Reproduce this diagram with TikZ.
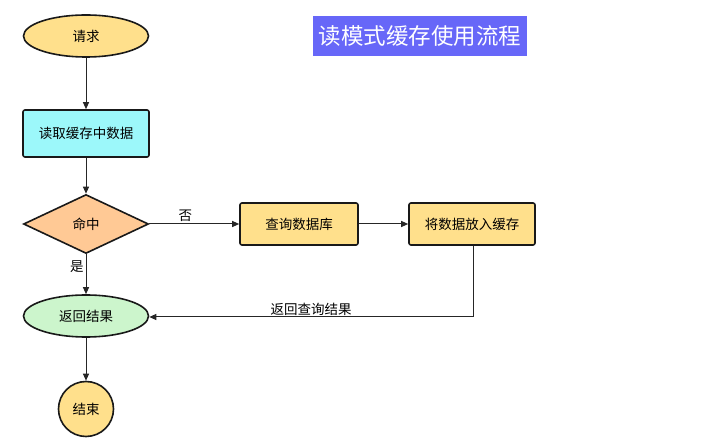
\documentclass[tikz,border=0pt]{standalone}
\usepackage{fontspec}
\setmainfont{Noto Sans CJK SC}
\usetikzlibrary{shapes.geometric,arrows.meta}
\definecolor{cyel}{HTML}{FFE08C}
\definecolor{ccyan}{HTML}{9CF8FA}
\definecolor{corange}{HTML}{FFC995}
\definecolor{cgreen}{HTML}{CCF5CC}
\definecolor{ctitle}{HTML}{6767F8}
\tikzset{
  base/.style={draw=black!90, line width=1.6pt, font=\fontsize{13.5}{15}\selectfont, inner sep=0pt},
  term/.style={base, ellipse, minimum width=125pt, minimum height=42pt},
  proc/.style={base, rectangle, rounded corners=2pt, minimum height=42pt},
  dec/.style={base, diamond, aspect=2.1, minimum width=125pt, minimum height=59pt},
  conn/.style={draw=black!85, line width=1pt, -{Triangle[length=7pt,width=6pt]}},
  lbl/.style={font=\fontsize{13.5}{15}\selectfont, inner sep=1pt}
}
\begin{document}
\begin{tikzpicture}[x=1pt,y=-1pt]
\useasboundingbox (0,0) rectangle (702,438);
\node[term, fill=cyel] (req) at (86,36) {请求};
\node[proc, fill=ccyan, minimum width=126pt, minimum height=47pt] (read) at (86,133.5) {读取缓存中数据};
\node[dec, fill=corange] (hit) at (86,224) {命中};
\node[term, fill=cgreen] (ret) at (86,316) {返回结果};
\node[base, circle, fill=cyel, minimum size=55pt] (end) at (86,409) {结束};
\node[proc, fill=cyel, minimum width=118pt] (db) at (299,224) {查询数据库};
\node[proc, fill=cyel, minimum width=126pt] (put) at (472,224) {将数据放入缓存};
\node[fill=ctitle, text=white, minimum width=214pt, minimum height=40pt, inner sep=0pt, font=\fontsize{22.5}{25}\selectfont] (title) at (420,36) {读模式缓存使用流程};
\coordinate (corner) at (473,317);
\draw[conn] (req) -- (read);
\draw[conn] (read) -- (hit);
\draw[conn] (hit) -- node[lbl, pos=0.3, left=1pt] {是} (ret);
\draw[conn] (hit) -- node[lbl, pos=0.4, above=1pt] {否} (db);
\draw[conn] (db) -- (put);
\draw[conn] (put.south -| corner) -- (corner) -- node[lbl, pos=0.5, above=0pt] {返回查询结果} (ret.east |- corner);
\draw[conn] (ret) -- (end);
\end{tikzpicture}
\end{document}
